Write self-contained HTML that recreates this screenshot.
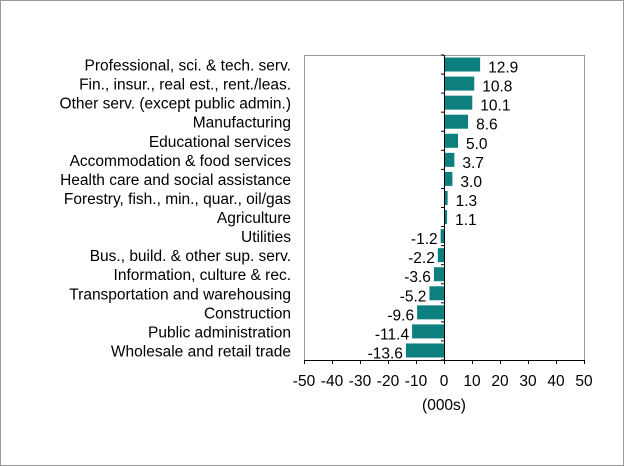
<!DOCTYPE html>
<html><head><meta charset="utf-8"><style>
html,body{margin:0;padding:0;background:#fff}
svg{display:block;font-family:"Liberation Sans",Arial,sans-serif}
</style></head><body>
<svg id="chart" width="624" height="466" viewBox="0 0 624 466">
<rect x="0.5" y="0.5" width="623" height="465" fill="#fff" stroke="#999"/>
<rect x="304.5" y="55.5" width="280" height="305" fill="none" stroke="#999"/>
<g id="bars"></g>
<text x="444" y="410" font-size="15.5" text-anchor="middle" fill="#000">(000s)</text>
</svg>
<script>
const categories=["Professional, sci. & tech. serv.","Fin., insur., real est., rent./leas.","Other serv. (except public admin.)","Manufacturing","Educational services","Accommodation & food services","Health care and social assistance","Forestry, fish., min., quar., oil/gas","Agriculture","Utilities","Bus., build. & other sup. serv.","Information, culture & rec.","Transportation and warehousing","Construction","Public administration","Wholesale and retail trade"];
const values=[12.9,10.8,10.1,8.6,5.0,3.7,3.0,1.3,1.1,-1.2,-2.2,-3.6,-5.2,-9.6,-11.4,-13.6];
const valueLabels=["12.9","10.8","10.1","8.6","5.0","3.7","3.0","1.3","1.1","-1.2","-2.2","-3.6","-5.2","-9.6","-11.4","-13.6"];
const xTicks=[-50,-40,-30,-20,-10,0,10,20,30,40,50];
const NS="http://www.w3.org/2000/svg";
const g=document.getElementById('bars');
const L=304,R=584,T=55,B=360;
const FS=15.5;
const x=v=>L+(v+50)/100*(R-L);
const rowH=(B-T)/categories.length;
function el(t,a){const e=document.createElementNS(NS,t);for(const k in a)e.setAttribute(k,a[k]);g.appendChild(e);return e;}
categories.forEach((c,i)=>{
 const cy=T+rowH*(i+0.5);const v=values[i];
 const r=el('rect',{x:Math.min(x(0),x(v)),y:cy-7,width:Math.abs(x(v)-x(0)),height:14,fill:'#0e7f7f'});
 
 
 const t=el('text',{x:291,y:cy+6,'font-size':FS,'text-anchor':'end'});t.textContent=c;
 
 
 const vt=el('text',{x:v>=0?x(v)+8:x(v)-3,y:cy+8,'font-size':FS,'text-anchor':v>=0?'start':'end'});vt.textContent=valueLabels[i];
 
 
});
for(let i=0;i<=categories.length;i++){const ty=T+rowH*i;const tk=el('line',{x1:x(0)-3,x2:x(0),y1:ty,y2:ty,stroke:'#000'});
 
 }
const ax=el('line',{x1:x(0)+0.5,x2:x(0)+0.5,y1:T,y2:B,stroke:'#000'});


const bx=el('line',{x1:L,x2:R,y1:B+0.5,y2:B+0.5,stroke:'#000'});


xTicks.forEach(v=>{
 const tk=el('line',{x1:x(v)+0.5,x2:x(v)+0.5,y1:B,y2:B+4,stroke:'#000'});
 
 
 const t=el('text',{x:x(v),y:B+26,'font-size':FS,'text-anchor':'middle'});t.textContent=v;
 
 
});
</script>
</body></html>
